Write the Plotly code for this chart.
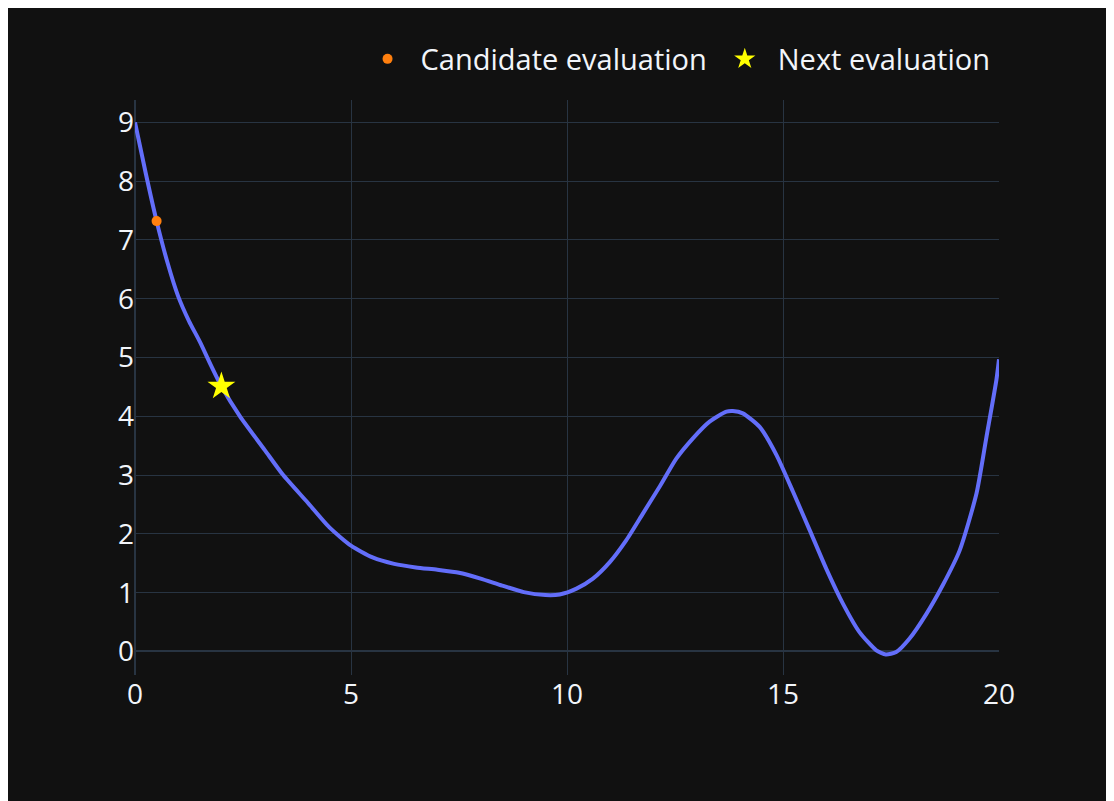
import plotly.graph_objects as go

# Objective curve
curve_x = [0, 0.25, 0.5, 0.75, 1, 1.25, 1.5, 1.75, 2, 2.43, 3, 3.43, 4, 4.5, 5, 5.5, 6, 6.5, 7, 7.5,
           8, 8.5, 9, 9.5, 9.83, 10.22, 10.6, 10.99, 11.37, 11.76, 12.15, 12.53, 12.92, 13.3,
           13.69, 13.84, 14.07, 14.46, 14.85, 15.23, 15.62, 16.0, 16.39, 16.77, 17.16, 17.38,
           17.62, 17.93, 18.32, 18.7, 19.09, 19.48, 19.71, 19.94, 20]
curve_y = [9.0, 8.13, 7.32, 6.62, 6.04, 5.62, 5.27, 4.88, 4.51, 4.0, 3.43, 3.0, 2.53, 2.11, 1.8, 1.6,
           1.49, 1.43, 1.39, 1.34, 1.24, 1.12, 1.01, 0.96, 0.97, 1.07, 1.24, 1.52, 1.89, 2.35,
           2.81, 3.28, 3.63, 3.91, 4.08, 4.09, 4.05, 3.82, 3.34, 2.72, 2.06, 1.41, 0.81, 0.33,
           0.02, -0.05, -0.01, 0.22, 0.64, 1.13, 1.72, 2.69, 3.65, 4.62, 4.97]

cand_x = [0.5]
cand_y = [7.32]
next_x = [2.0]
next_y = [4.51]

fig = go.Figure()
fig.add_trace(go.Scatter(x=curve_x, y=curve_y, mode="lines", showlegend=False,
                         line=dict(color="#636efa", width=4, shape="spline", smoothing=0.6),
                         hoverinfo="skip"))
fig.add_trace(go.Scatter(x=cand_x, y=cand_y, mode="markers", name="Candidate evaluation",
                         marker=dict(color="#ff7f0e", size=10)))
fig.add_trace(go.Scatter(x=next_x, y=next_y, mode="markers", name="Next evaluation",
                         marker=dict(color="#ffff00", symbol="star", size=21)))

fig.update_layout(
    template="plotly_dark",
    width=1106, height=793,
    paper_bgcolor="#111111",
    plot_bgcolor="#111111",
    font=dict(size=29, color="#f2f5fa"),
    margin=dict(l=127, r=115, t=92, b=126),
    legend=dict(orientation="h", x=0.996, xanchor="right", y=1.0713, yanchor="middle",
                itemwidth=56, font=dict(size=29), bgcolor="rgba(0,0,0,0)"),
    xaxis=dict(range=[0, 20], tickvals=[0, 5, 10, 15, 20], showgrid=True,
               gridcolor="#283442", zerolinecolor="#283442", zerolinewidth=2,
               tickfont=dict(size=28)),
    yaxis=dict(range=[-0.40, 9.38], tickvals=list(range(10)), showgrid=True,
               gridcolor="#283442", zerolinecolor="#283442", zerolinewidth=2,
               tickfont=dict(size=28)),
)
fig.write_html("out.html")
